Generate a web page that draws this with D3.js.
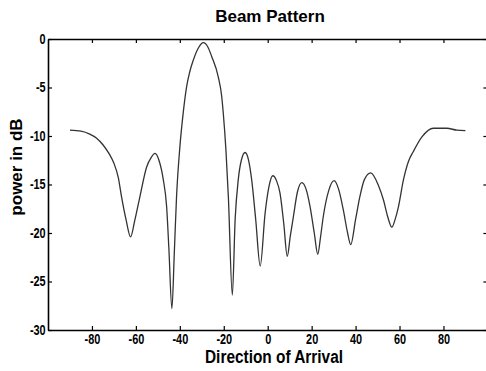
<!DOCTYPE html>
<html>
<head>
<meta charset="utf-8">
<script src="https://cdn.jsdelivr.net/npm/d3@7"></script>
<style>
  body { margin: 0; background: #fff; }
  svg { display: block; }
</style>
</head>
<body>
<script>
var svgWidth = 486; // ancho
var svgHeight = 371; // alto

// Datos
var angles = [-90, -85, -81, -78, -75, -72, -70, -68, -66.5, -64.5, -62.4, -60.5, -58.2, -55.1, -53, -51.3, -49.5, -47.6, -46, -45,
  -43.6, -42.5, -41.5, -40, -38.5, -36.9, -35.5, -33.9, -31.5, -29.3, -27.3, -25.5, -22.5, -21, -20.2, -19, -17.9, -16.1, -14.8, -13.4,
  -12, -10.3, -8.8, -7.3, -5.5, -3.4, -1.2, 0.5, 2.3, 4, 5.6, 7.3, 8.9, 10.3, 11.7, 13.5, 15.5, 17.5, 19.3, 21.2,
  22.8, 24, 25.3, 27.8, 30.2, 32.3, 34.4, 36.2, 37.8, 40, 42, 44, 46.9, 50.4, 52.7, 54.6, 56.5, 58, 59.5, 61.8,
  64.1, 66.3, 70.2, 75.4, 81.5, 86.1, 90];
var powerDb = [-9.4, -9.5, -9.8, -10.2, -10.9, -11.9, -12.8, -14.3, -16.3, -18.6, -20.4, -18.7, -16.3, -13.2, -12.2, -11.8, -12.5, -14.4, -17.3, -21.5,
  -27.8, -22, -16.3, -11.2, -7.7, -4.9, -3.4, -2.2, -0.9, -0.38, -0.8, -1.8, -3.9, -5.8, -7.7, -11.5, -16.3, -26.4, -18.5, -14.5,
  -12.5, -11.7, -12.4, -14.5, -18.5, -23.4, -18, -15.3, -14.1, -14.6, -15.9, -19, -22.4, -20.3, -18.3, -15.8, -14.8, -15.5, -17.3, -20,
  -22.2, -20.5, -18.3, -15.6, -14.6, -15.5, -17.6, -19.8, -21.2, -18.6, -16.2, -14.5, -13.8, -15.1, -16.6, -18.3, -19.4, -18.6, -17.3, -14.5,
  -12.6, -11.6, -10.1, -9.2, -9.2, -9.4, -9.45];
var xTicks = [-80, -60, -40, -20, 0, 20, 40, 60, 80];
var yTicks = [-30, -25, -20, -15, -10, -5, 0];

var data = angles.map(function(a, i) { return { ang: a, db: powerDb[i] }; });

var svg = d3.select("body")
  .append("svg")
  .attr("width", svgWidth)
  .attr("height", svgHeight);

var xScale = d3.scaleLinear().domain([-100, 100]).range([48, 487.4]);
var yScale = d3.scaleLinear().domain([-30, 0]).range([330, 39]);

var font = "'Liberation Sans', Arial, sans-serif";

// ejes
svg.append("g")
  .attr("transform", "translate(0," + yScale(-30) + ")")
  .call(d3.axisBottom(xScale).tickValues(xTicks).tickSizeInner(-4).tickSizeOuter(0).tickPadding(4)
    .tickFormat(function(d) { return String(d); }));

svg.append("g")
  .attr("transform", "translate(0," + yScale(0) + ")")
  .call(d3.axisTop(xScale).tickValues(xTicks).tickSizeInner(-4).tickSizeOuter(0).tickFormat(""));

svg.append("g")
  .attr("transform", "translate(" + xScale(-100) + ",0)")
  .call(d3.axisLeft(yScale).tickValues(yTicks).tickSizeInner(-4).tickSizeOuter(0).tickPadding(3)
    .tickFormat(function(d) { return String(d); }));

svg.append("g")
  .attr("transform", "translate(" + xScale(100) + ",0)")
  .call(d3.axisRight(yScale).tickValues(yTicks).tickSizeInner(-4).tickSizeOuter(0).tickFormat(""));

svg.selectAll(".domain").attr("stroke", "#000").attr("stroke-width", 1.6);
svg.selectAll(".tick line").attr("stroke", "#000").attr("stroke-width", 1.2);
// etiquetas estrechas, como en el original
svg.selectAll(".tick text")
  .attr("font-family", font)
  .attr("font-weight", "bold")
  .attr("font-size", 14)
  .attr("fill", "#000")
  .attr("transform", "scale(0.78,1)");

// curva
var line = d3.line()
  .x(function(d) { return xScale(d.ang); })
  .y(function(d) { return yScale(d.db); })
  .curve(d3.curveMonotoneX);

svg.append("path")
  .datum(data)
  .attr("fill", "none")
  .attr("stroke", "#333")
  .attr("stroke-width", 1.3)
  .attr("d", line);

// textos
svg.append("text")
  .attr("x", 270).attr("y", 22)
  .attr("text-anchor", "middle")
  .attr("font-family", font)
  .attr("font-weight", "bold").attr("font-size", 17)
  .text("Beam Pattern");

svg.append("text")
  .attr("x", 274).attr("y", 363)
  .attr("text-anchor", "middle")
  .attr("font-family", font)
  .attr("font-weight", "bold").attr("font-size", 18)
  .attr("textLength", 138)
  .attr("lengthAdjust", "spacingAndGlyphs")
  .text("Direction of Arrival");

svg.append("text")
  .attr("transform", "translate(22,167) rotate(-90)")
  .attr("text-anchor", "middle")
  .attr("font-family", font)
  .attr("font-weight", "bold").attr("font-size", 17)
  .text("power in dB");
</script>
</body>
</html>
